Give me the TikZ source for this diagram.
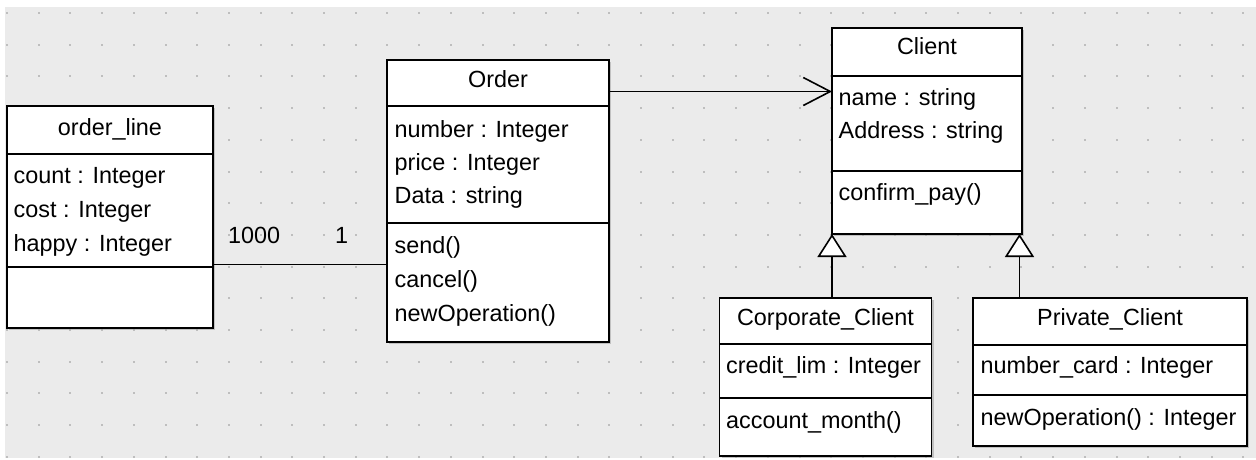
\documentclass[tikz,border=0pt]{standalone}
\usepackage{fontspec}
\setmainfont{Liberation Sans}
\usetikzlibrary{arrows.meta,shadows,calc}
\definecolor{bgc}{RGB}{235,235,235}
\definecolor{dotc}{RGB}{190,190,190}
\newcommand\umlfont{\fontsize{23.4pt}{28pt}\selectfont}
\begin{document}
\begin{tikzpicture}[x=1pt,y=-1pt,
  classbox/.style={draw=black, line width=1.7pt, fill=white, rectangle, inner sep=0pt, outer sep=0pt, anchor=north west,
    drop shadow={shadow xshift=2pt, shadow yshift=-2pt, fill=black!40, opacity=0.5}},
  txt/.style={font=\umlfont, inner sep=0pt, anchor=base west},
  ttl/.style={font=\umlfont, inner sep=0pt, anchor=base},
  sepline/.style={line width=1.7pt},
  conn/.style={line width=1.6pt}]
\useasboundingbox (0,0) rectangle (1256,459);
\fill[white] (0,0) rectangle (1256,459);
\fill[bgc] (5,7) rectangle (1256,458);
\foreach \i in {0,...,39}{
  \foreach \j in {0,...,14}{
    \fill[dotc] ({6+\i*31.7},{12+\j*31.7}) rectangle ++(2,2);
  }
}
% classes
\node[classbox, minimum width=206pt, minimum height=222pt] (ol) at (7,106) {};
\node[classbox, minimum width=222pt, minimum height=282pt] (ord) at (387,60) {};
\node[classbox, minimum width=190pt, minimum height=206pt] (cl) at (832,28) {};
\node[classbox, minimum width=212pt, minimum height=158pt] (cc) at (719.5,298) {};
\node[classbox, minimum width=274pt, minimum height=148pt] (pc) at (973,298) {};
% compartments
\draw[sepline] ([yshift=-48pt]ol.north west) -- ([yshift=-48pt]ol.north east);
\draw[sepline] ([yshift=-161pt]ol.north west) -- ([yshift=-161pt]ol.north east);
\draw[sepline] ([yshift=-46pt]ord.north west) -- ([yshift=-46pt]ord.north east);
\draw[sepline] ([yshift=-163pt]ord.north west) -- ([yshift=-163pt]ord.north east);
\draw[sepline] ([yshift=-48pt]cl.north west) -- ([yshift=-48pt]cl.north east);
\draw[sepline] ([yshift=-143pt]cl.north west) -- ([yshift=-143pt]cl.north east);
\draw[sepline] ([yshift=-46pt]cc.north west) -- ([yshift=-46pt]cc.north east);
\draw[sepline] ([yshift=-100pt]cc.north west) -- ([yshift=-100pt]cc.north east);
\draw[sepline] ([yshift=-47pt]pc.north west) -- ([yshift=-47pt]pc.north east);
\draw[sepline] ([yshift=-97pt]pc.north west) -- ([yshift=-97pt]pc.north east);
% texts: order_line
\node[ttl] (olt) at (110,135) {order\_line};
\node[txt] (ol1) at (13.5,183) {count : Integer};
\node[txt] (ol2) at (13.5,217) {cost : Integer};
\node[txt] (ol3) at (13.5,251) {happy : Integer};
% Order
\node[ttl] (ordt) at (498,87) {Order};
\node[txt] (or1) at (394.5,137) {number : Integer};
\node[txt] (or2) at (394.5,170) {price : Integer};
\node[txt] (or3) at (394.5,203) {Data : string};
\node[txt] (or4) at (394.5,253) {send()};
\node[txt] (or5) at (394.5,287) {cancel()};
\node[txt] (or6) at (394.5,321) {newOperation()};
% Client
\node[ttl] (clt) at (927,54) {Client};
\node[txt] (cl1) at (838.5,105) {name : string};
\node[txt] (cl2) at (838.5,138) {Address : string};
\node[txt] (cl3) at (838.5,200) {confirm\_pay()};
% Corporate_Client
\node[ttl] (cct) at (825.5,325) {Corporate\_Client};
\node[txt] (cc1) at (726,373) {credit\_lim : Integer};
\node[txt] (cc2) at (726,428) {account\_month()};
% Private_Client
\node[ttl] (pct) at (1110,325) {Private\_Client};
\node[txt] (pc1) at (980.5,373) {number\_card : Integer};
\node[txt] (pc2) at (980.5,425) {newOperation() : Integer};
% connectors
\coordinate (as) at ([yshift=-47.5pt]ol.east);
\draw[conn] (as) -- (as -| ord.west);
\node[txt] (m1) at (228,243) {1000};
\node[txt] (m2) at (335,243) {1};
\coordinate (ao) at ([yshift=109.5pt]ord.east);
\draw[conn, -{Straight Barb[length=27pt, width=28pt, line width=1.6pt]}] (ao) -- (ao -| cl.west);
\coordinate (gl) at (cl.south west);
\draw[conn, -{Triangle[fill=white, length=23pt, width=29pt, line width=1.6pt]}] (gl |- cc.north) -- (gl);
\coordinate (gr) at ([xshift=-2.5pt]cl.south east);
\draw[conn, -{Triangle[fill=white, length=23pt, width=29pt, line width=1.6pt]}] (gr |- pc.north) -- (gr);
\end{tikzpicture}
\end{document}
